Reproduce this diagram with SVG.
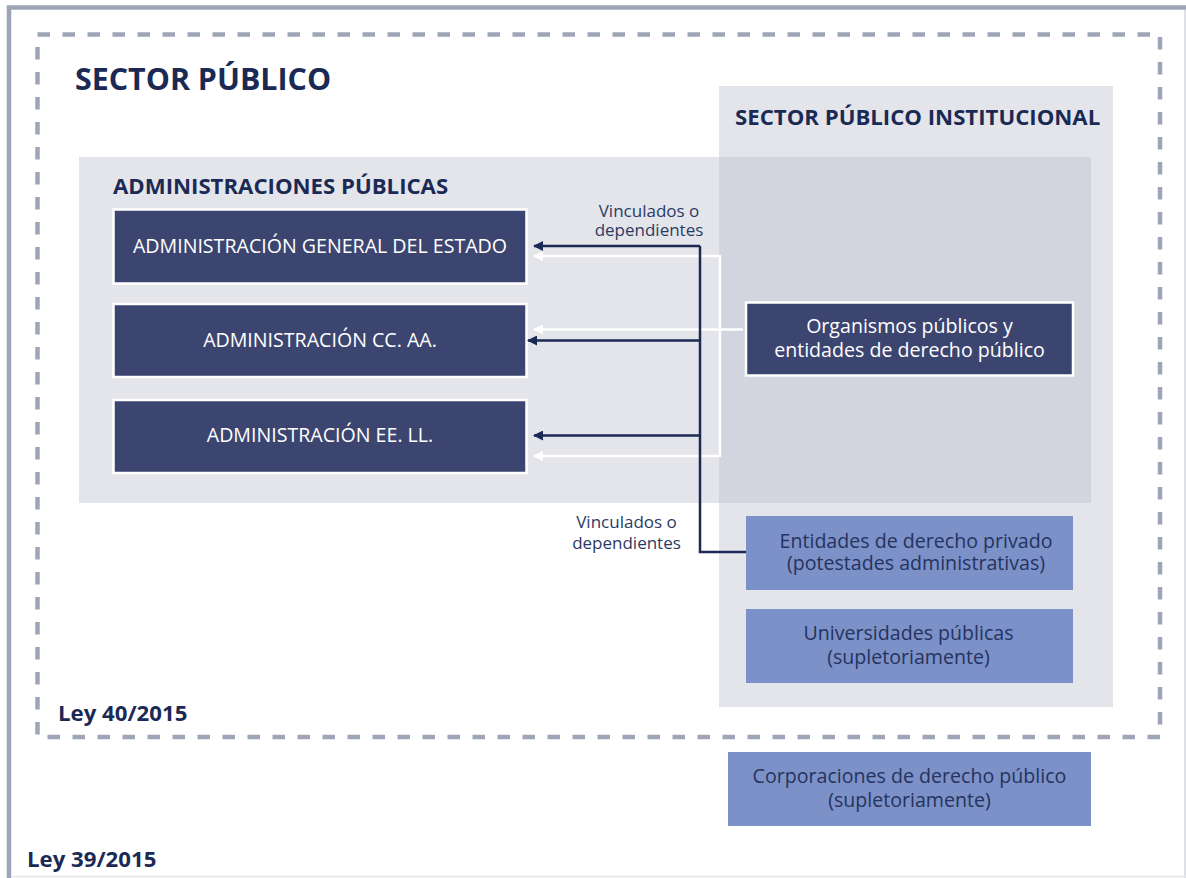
<svg xmlns="http://www.w3.org/2000/svg" width="1186" height="878" viewBox="0 0 1186 878">
<defs>
<style>
.title{font-family:"Open Sans","Liberation Sans",sans-serif;font-weight:700;fill:#1b2a55}
.lbl{font-family:"Open Sans","Liberation Sans",sans-serif;font-size:17px;fill:#2b3a64}
.dk{fill:#3c4570;stroke:#ffffff;stroke-width:2.5}
.dkt{font-family:"Open Sans","Liberation Sans",sans-serif;font-size:19.6px;fill:#ffffff;text-anchor:middle}
.lt{fill:#7b91c8}
.ltt{font-family:"Open Sans","Liberation Sans",sans-serif;font-size:19.6px;fill:#26335e;text-anchor:middle}
.dline{fill:none;stroke:#1b2a55;stroke-width:2.5}
.wline{fill:none;stroke:#ffffff;stroke-width:2.5}
</style>
<marker id="ad" viewBox="0 0 10 10" refX="9" refY="5" markerWidth="10" markerHeight="10" markerUnits="userSpaceOnUse" orient="auto"><path d="M0,0 L10,5 L0,10 z" fill="#1b2a55"/></marker>
<marker id="aw" viewBox="0 0 10 10" refX="9" refY="5" markerWidth="10" markerHeight="10" markerUnits="userSpaceOnUse" orient="auto"><path d="M0,0 L10,5 L0,10 z" fill="#ffffff"/></marker>
</defs>
<rect width="1186" height="878" fill="#ffffff"/>
<g id="frame-ley39">
<path d="M9,878 V7.5 H1186" fill="none" stroke="#9ea5b6" stroke-width="4.5"/>
<line x1="1185" y1="10" x2="1185" y2="878" stroke="#d4d6de" stroke-width="1.5"/>
<line x1="11" y1="876.5" x2="1186" y2="876.5" stroke="#e6e7ec" stroke-width="1.5"/>
<text class="title" x="27" y="867" font-size="22.2">Ley 39/2015</text>
</g>
<g id="frame-ley40">
<rect x="37.5" y="34.5" width="1122.5" height="702.5" fill="none" stroke="#9ea5b6" stroke-width="4.5" stroke-dasharray="12.5 12.5"/>
<text class="title" x="75" y="90" font-size="30.4">SECTOR PÚBLICO</text>
<text class="title" x="58" y="721" font-size="22.2">Ley 40/2015</text>
</g>
<g id="panel-institucional">
<rect x="719" y="86" width="394" height="621" fill="#e4e5ea"/>
<text class="title" x="735" y="125" font-size="22.2">SECTOR PÚBLICO INSTITUCIONAL</text>
</g>
<g id="panel-administraciones">
<rect x="79" y="157" width="1012" height="346" fill="#e4e5ea"/>
<rect x="719" y="157" width="372" height="346" fill="#d2d5de"/>
<text class="title" x="113" y="194" font-size="22.2">ADMINISTRACIONES PÚBLICAS</text>
</g>
<g id="node-age">
<rect class="dk" x="113.5" y="209.5" width="413" height="74"/>
<text class="dkt" x="320" y="253">ADMINISTRACIÓN GENERAL DEL ESTADO</text>
</g>
<g id="node-ccaa">
<rect class="dk" x="113.5" y="304" width="413" height="73"/>
<text class="dkt" x="320" y="347">ADMINISTRACIÓN CC. AA.</text>
</g>
<g id="node-eell">
<rect class="dk" x="113.5" y="400" width="413" height="73"/>
<text class="dkt" x="320" y="442">ADMINISTRACIÓN EE. LL.</text>
</g>
<g id="node-organismos">
<rect class="dk" x="746" y="302.5" width="327" height="73"/>
<text class="dkt" x="909.5" y="333">Organismos públicos y</text>
<text class="dkt" x="909.5" y="357">entidades de derecho público</text>
</g>
<g id="node-privado">
<rect class="lt" x="746" y="516" width="327" height="74"/>
<text class="ltt" x="916" y="547.5">Entidades de derecho privado</text>
<text class="ltt" x="916" y="570">(potestades administrativas)</text>
</g>
<g id="node-universidades">
<rect class="lt" x="746" y="609" width="327" height="74"/>
<text class="ltt" x="908.5" y="640">Universidades públicas</text>
<text class="ltt" x="908.5" y="664">(supletoriamente)</text>
</g>
<g id="node-corporaciones">
<rect class="lt" x="728" y="752" width="363" height="74"/>
<text class="ltt" x="909.5" y="783">Corporaciones de derecho público</text>
<text class="ltt" x="909.5" y="807">(supletoriamente)</text>
</g>
<g id="connectors">
<path class="wline" d="M720,256 H534" marker-end="url(#aw)"/>
<path class="wline" d="M720,456 H534" marker-end="url(#aw)"/>
<path class="wline" d="M720,255 V457"/>
<path class="wline" d="M743,329.5 H534" marker-end="url(#aw)"/>
<path class="dline" d="M746,552 H700 V246"/>
<path class="dline" d="M700,246 H534" marker-end="url(#ad)"/>
<path class="dline" d="M700,340.5 H528" marker-end="url(#ad)"/>
<path class="dline" d="M700,435.5 H534" marker-end="url(#ad)"/>
<text class="lbl" x="649" y="216.5" text-anchor="middle">Vinculados o</text>
<text class="lbl" x="649" y="236" text-anchor="middle">dependientes</text>
<text class="lbl" x="626.5" y="527.5" text-anchor="middle">Vinculados o</text>
<text class="lbl" x="626.5" y="548.5" text-anchor="middle">dependientes</text>
</g>
</svg>
